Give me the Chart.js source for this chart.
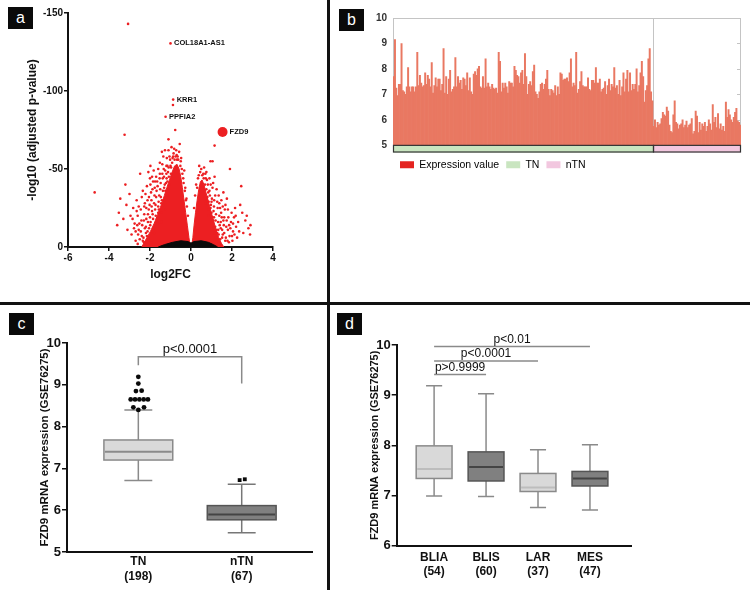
<!DOCTYPE html>
<html><head><meta charset="utf-8">
<script src="https://cdn.jsdelivr.net/npm/chart.js@4.4.1/dist/chart.umd.min.js"></script>
<style>
html,body{margin:0;padding:0;background:#fff;}
#wrap{position:relative;width:750px;height:590px;overflow:hidden;background:#fff;font-family:"Liberation Sans",Arial,sans-serif;}
canvas{position:absolute;}
.sep{position:absolute;background:#111;}
.lab{position:absolute;width:25px;height:22px;line-height:21px;background:#0a0a0a;color:#fff;font-size:16px;text-align:center;}
</style></head><body>
<div id="wrap">
<canvas id="ca" width="327" height="302" style="left:0;top:0"></canvas>
<canvas id="cb" width="420" height="180" style="left:330px;top:0"></canvas>
<canvas id="cc" width="327" height="285" style="left:0;top:305px"></canvas>
<canvas id="cd" width="420" height="285" style="left:330px;top:305px"></canvas>
<div class="sep" style="left:327px;top:0;width:3px;height:590px"></div>
<div class="sep" style="left:0;top:302px;width:750px;height:3px"></div>
<div class="lab" style="left:8px;top:7px">a</div>
<div class="lab" style="left:339px;top:9px">b</div>
<div class="lab" style="left:9px;top:313px">c</div>
<div class="lab" style="left:337px;top:313px">d</div>
</div>
<script>
// ---------- DATA ----------
// panel a : volcano
const volcanoXTicks = [-6, -4, -2, 0, 2, 4];
const volcanoYTicks = [-150, -100, -50, 0];
const volcanoPts = [
 [-4.7,-35],[-3.6,-14],[-3.52,-22],[-3.45,-31],[-3.3,-18],[-3.24,-72],[-3.2,-40],[-3.15,-27],[-3.1,-11],[-3.07,-143],
 [-3.0,-34],[-2.95,-20],[-2.9,-8],[-2.82,-25],[-2.75,-15],[-2.7,-4],[-2.65,-30],[-2.6,-20],[-2.55,-11],[-2.48,-47],
 [-2.45,-24],[-2.4,-7],[-2.35,-36],[-2.3,-17],[-2.25,-28],[-2.2,-13],[-2.15,-39],[-2.1,-21],[-2.05,-32],[-2.0,-44],
 [-1.97,-16],[-1.92,-26],[-1.88,-37],[-1.82,-49],[-1.8,-9],[-1.75,-24],[-1.7,-32],[-1.65,-42],[-1.62,-15],[-1.58,-29],
 [-1.52,-54],[-1.5,-37],[-1.45,-22],[-1.42,-61],[-1.38,-44],[-1.33,-50],[-1.3,-30],[-1.27,-62],[-1.22,-41],[-1.18,-57],
 [-1.12,-48],[-1.1,-69],[-1.05,-58],[-1.0,-52],[-0.95,-64],[-0.9,-57],[-0.85,-60],[-0.77,-75],[-0.72,-62],[-0.65,-58],
 [-0.55,-66],[-0.5,-55],[-0.45,-50],[-0.38,-44],[-0.3,-36],[-0.25,-30],[-2.6,-2],[-2.5,-5],[-2.3,-3],[-2.15,-7],
 [-1.95,-3],[-0.8,-56],[-0.68,-56],[-1.6,-22],[-1.45,-28],[-1.25,-36],[-1.15,-42],[-0.98,-47],[-1.85,-18],[-2.05,-12],
 [-0.88,-91],
 [-2.35,-4],[-2.2,-9],[-2.1,-16],[-2.0,-19],[-1.9,-23],[-1.8,-28],[-1.72,-20],[-1.68,-36],[-1.6,-26],[-1.55,-33],
 [-1.48,-41],[-1.42,-30],[-1.37,-36],[-1.32,-45],[-1.28,-40],[-1.2,-47],[-1.15,-52],[-1.08,-45],[-1.02,-56],[-0.97,-51],
 [-0.92,-54],[-0.87,-58],[-0.82,-63],[-0.75,-58],[-0.7,-59],[-0.62,-56],[-0.58,-61],[-0.52,-52],[-0.48,-57],[-0.42,-47],
 [-0.36,-41],[-0.33,-49],[-0.28,-38],[-0.22,-31],[-0.2,-26],[-0.15,-20],[-2.45,-10],[-2.38,-14],[-2.28,-21],[-2.18,-25],
 [-2.02,-27],[-1.95,-35],[-1.85,-42],[-1.78,-33],[-1.52,-47],[-1.4,-53],[-1.35,-58],[-1.2,-52],[-1.1,-62],[-2.7,-10],
 [-2.62,-14],[-2.85,-18],[-2.55,-26],[-2.4,-32],[-2.22,-34],[-2.08,-48],[-1.98,-52],[-1.7,-45],[-1.6,-50],
 [-2.32,-6],[-2.25,-12],[-2.18,-18],[-2.12,-10],[-2.06,-24],[-1.99,-14],[-1.93,-30],[-1.87,-21],[-1.83,-12],[-1.77,-38],
 [-1.73,-27],[-1.66,-18],[-1.63,-39],[-1.57,-24],[-1.53,-44],[-1.47,-32],[-1.43,-16],[-1.4,-47],[-1.36,-27],[-1.31,-38],
 [-1.26,-49],[-1.24,-24],[-1.19,-44],[-1.14,-33],[-1.09,-51],[-1.04,-40],[-2.28,-26],[-2.12,-30],[-1.98,-40],[-1.9,-45],
 [-1.75,-42],[-2.42,-17],[-2.52,-15],[-2.58,-8],[-2.65,-23],[-2.78,-12],
 [0.3,-38],[0.38,-46],[0.45,-48],[0.55,-46],[0.62,-44],[0.68,-40],[0.75,-37],[0.8,-32],[0.86,-29],[0.9,-36],
 [0.95,-25],[1.0,-22],[1.02,-31],[1.05,-55],[0.95,-55],[1.08,-17],[1.12,-26],[1.15,-65],[1.18,-13],[1.22,-21],
 [1.28,-9],[1.32,-16],[1.38,-28],[1.42,-5],[1.45,-12],[1.5,-19],[1.55,-8],[1.6,-14],[1.65,-24],[1.7,-6],
 [1.75,-31],[1.8,-11],[1.85,-3],[1.9,-50],[1.95,-16],[2.0,-7],[2.05,-10],[2.1,-19],[2.2,-13],[2.3,-16],
 [2.4,-27],[2.45,-39],[2.5,-22],[2.55,-9],[2.65,-17],[2.72,-20],[2.8,-12],[2.88,-8],[2.9,-14],[1.25,-4],
 [1.35,-2],[0.7,-28],[0.85,-20],[1.0,-12],[1.15,-9],
 [0.6,-47],[0.65,-36],[0.72,-44],[0.78,-30],[0.82,-40],[0.88,-24],[0.92,-33],[0.97,-27],[1.02,-19],[1.05,-38],
 [1.1,-23],[1.13,-30],[1.2,-17],[1.24,-11],[1.3,-25],[1.35,-8],[1.4,-14],[1.47,-22],[1.52,-6],[1.58,-17],
 [1.62,-9],[1.68,-27],[1.72,-13],[1.78,-4],[1.82,-19],[1.88,-7],[1.92,-12],[1.98,-22],[2.02,-4],[2.12,-8],
 [2.15,-25],[2.25,-6],[2.35,-10],[0.25,-40],[0.2,-33],[0.15,-25],[0.5,-50],[0.4,-52],[0.34,-44],[0.58,-38],
 [1.48,-30],[1.58,-35],[0.75,-48],
 [1.45,-16],[1.38,-20],[1.33,-11],[1.28,-29],[1.22,-6],[1.18,-33],[1.12,-19],[1.08,-41],[1.0,-29],[0.96,-40],
 [0.9,-44],[0.84,-35],[0.78,-43],[0.7,-47],[0.64,-51],[1.55,-26],[1.62,-19],[1.67,-4],[1.74,-17],[1.8,-24],
 [1.86,-14],[1.52,-11],[1.42,-25],[1.35,-33],[1.25,-37],[1.15,-45],[2.05,-15],[2.18,-20]
];
// dense significant clouds (outline of the packed points)
const denseLeft = [[-0.03,0],[-0.1,-6],[-0.18,-14],[-0.26,-22],[-0.34,-30],[-0.42,-38],[-0.5,-45],[-0.58,-50],[-0.68,-53],[-0.8,-52],[-0.92,-48],[-1.05,-43],[-1.18,-38],[-1.3,-33],[-1.45,-27],[-1.62,-21],[-1.8,-15],[-1.98,-10],[-2.15,-6],[-2.3,-2.5],[-2.4,0]];
const denseRight = [[0.03,0],[0.09,-6],[0.15,-14],[0.22,-22],[0.3,-30],[0.38,-37],[0.46,-42],[0.54,-43],[0.63,-40],[0.73,-35],[0.85,-29],[0.97,-23],[1.1,-17],[1.22,-11],[1.35,-6],[1.48,-2.5],[1.6,0]];
const denseNonSig = [[-1.6,0],[-1.3,-1.5],[-0.9,-3],[-0.5,-4],[-0.15,-3.5],[0,-2.5],[0.15,-3.5],[0.5,-4],[0.85,-3],[1.1,-1.5],[1.3,0]];
const geneNames = ['COL18A1-AS1', 'KRR1', 'PPFIA2', 'FZD9'];
const geneX = [-1.0, -0.87, -1.24, 1.54];
const geneY = [-130.5, -94.5, -83.5, -73.7];

// panel b : expression per sample
const tnExpr = [
 7.7,9.15,7.25,6.95,7.4,7.4,9.0,7.15,7.1,7.0,
 7.3,8.05,7.3,7.1,7.3,7.3,7.1,7.3,8.65,7.35,
 7.75,7.45,7.3,7.35,7.85,7.4,7.75,7.6,7.3,8.25,
 7.05,7.35,7.65,7.3,7.6,7.6,7.15,7.4,8.8,7.05,
 7.7,7.0,7.6,7.95,7.1,7.2,7.3,8.45,7.3,7.7,
 7.45,7.55,7.2,7.65,7.6,7.35,7.85,7.15,7.65,7.1,
 7.0,7.8,7.9,7.75,8.0,8.1,7.3,7.25,7.7,7.25,
 8.4,7.3,7.45,7.3,7.2,7.4,7.25,7.2,7.25,7.05,
 8.65,8.3,7.1,7.45,7.25,7.45,7.3,7.05,7.5,7.45,
 7.45,7.3,8.1,7.95,7.75,7.7,7.45,7.85,7.95,7.4,
 8.6,7.7,7.0,7.4,7.5,7.35,7.9,8.15,7.1,7.0,
 6.85,7.1,7.4,7.45,7.2,7.4,7.6,7.95,7.2,6.95,
 7.2,7.15,7.05,7.35,6.95,7.3,7.0,7.85,7.8,7.55,
 7.6,7.6,7.65,7.5,7.85,8.4,7.3,7.45,7.35,8.65,
 7.05,7.2,7.5,7.9,7.35,7.3,7.3,7.3,7.65,7.2,
 7.15,7.55,7.55,7.45,8.05,7.45,7.45,7.6,7.1,7.2,
 7.25,7.5,7.0,7.35,7.6,7.15,7.4,7.3,
 8.05,7.25,7.35,7.0,7.55,6.95,7.3,7.85,7.1,7.6,
 7.95,7.1,7.85,7.15,7.4,7.2,7.4,8.0,7.1,7.35,
 7.85,8.3,7.7,6.7,7.15,7.35,8.4,8.8,7.1,6.75
];
const ntnExpr = [
 5.75,6.0,5.7,5.9,5.8,5.85,6.05,6.3,6.2,6.15,
 6.5,6.35,5.8,5.55,5.5,6.2,6.75,5.9,5.85,5.65,
 5.8,5.85,6.0,5.7,5.8,5.95,5.7,5.8,5.85,6.05,
 5.45,5.55,6.35,6.15,5.5,5.9,5.6,5.85,5.75,5.9,
 5.55,5.75,6.0,5.85,5.6,6.6,5.9,6.1,5.7,6.25,
 5.65,5.85,5.6,5.75,5.55,6.7,6.1,6.4,6.2,6.0,
 5.9,6.1,6.3,6.45,5.95,5.9,5.8
];
const bTicks = [5, 6, 7, 8, 9, 10];
const bLegend = ['Expression value', 'TN', 'nTN'];

// panel c : TN vs nTN box plot
const cCats = ['TN', 'nTN'];
const cCounts = [198, 67];
const cMin = [6.71, 5.46];
const cQ1 = [7.20, 5.77];
const cMed = [7.40, 5.90];
const cQ3 = [7.68, 6.11];
const cMax = [8.40, 6.62];
const cOutTN = [[0,9.19],[0,9.03],[-0.023,8.85],[0.032,8.86],[-0.074,8.65],[-0.032,8.65],[0.01,8.65],[0.052,8.65],[0.093,8.65],[-0.048,8.46],[0.055,8.46],[0,8.40]];
const cOutNTN = [[0.98,6.72],[1.03,6.74]];
const cTicks = [5, 6, 7, 8, 9, 10];
const cP = 'p<0.0001';

// panel d : subtypes
const dCats = ['BLIA', 'BLIS', 'LAR', 'MES'];
const dCounts = [54, 60, 37, 47];
const dMin = [6.99, 6.98, 6.76, 6.71];
const dQ1 = [7.34, 7.29, 7.08, 7.19];
const dMed = [7.53, 7.57, 7.16, 7.34];
const dQ3 = [7.99, 7.87, 7.44, 7.48];
const dMax = [9.19, 9.03, 7.91, 8.01];
const dTicks = [6, 7, 8, 9, 10];
const dComp = [[0,1,'p>0.9999'],[0,2,'p<0.0001'],[0,3,'p<0.01']];

// ---------- DRAWING ----------
Chart.defaults.font.family = '"Liberation Sans", Arial, Helvetica, sans-serif';
Chart.defaults.color = '#111';
const RED = '#ec1f22';
const pts = a => a.map(p => ({x: p[0], y: p[1]}));

// panel a
const geneLabelPlugin = {
  id: 'geneLabels',
  afterDatasetsDraw(chart) {
    const {ctx, scales: {x, y}} = chart;
    ctx.save();
    ctx.font = 'bold 7.5px "Liberation Sans", Arial, sans-serif';
    ctx.fillStyle = '#111';
    ctx.textBaseline = 'middle';
    geneNames.forEach((g, i) => {
      const off = i === 3 ? 7 : 3.5;
      ctx.fillText(g, x.getPixelForValue(geneX[i]) + off, y.getPixelForValue(geneY[i]));
    });
    ctx.restore();
  }
};
new Chart(document.getElementById('ca'), {
  type: 'scatter',
  data: { datasets: [
    { type: 'line', data: pts(denseNonSig), showLine: true, fill: 'shape', backgroundColor: '#0a0a0a', borderColor: '#0a0a0a', borderWidth: 1, pointRadius: 0, order: 0 },
    { data: [{x: geneX[3], y: geneY[3]}], pointRadius: 5, backgroundColor: RED, borderWidth: 0, order: 0 },
    { data: geneNames.slice(0, 3).map((g, i) => ({x: geneX[i], y: geneY[i]})), pointRadius: 1.3, backgroundColor: RED, borderWidth: 0, order: 1 },
    { data: pts(volcanoPts), pointRadius: 1.3, backgroundColor: RED, borderWidth: 0, order: 1 },
    { type: 'line', data: pts(denseLeft), showLine: true, fill: 'shape', backgroundColor: RED, borderColor: RED, borderWidth: 1, pointRadius: 0, order: 2 },
    { type: 'line', data: pts(denseRight), showLine: true, fill: 'shape', backgroundColor: RED, borderColor: RED, borderWidth: 1, pointRadius: 0, order: 2 }
  ]},
  options: {
    responsive: false, animation: false,
    layout: { padding: { left: 0, top: 13, right: 54, bottom: 0 } },
    plugins: { legend: { display: false }, tooltip: { enabled: false } },
    scales: {
      x: { type: 'linear', min: -6, max: 4,
        afterBuildTicks: s => { s.ticks = volcanoXTicks.map(v => ({value: v})); },
        ticks: { font: { size: 10, weight: 'bold' }, color: '#111', padding: 1, maxRotation: 0 },
        grid: { drawOnChartArea: false, tickLength: 4, color: '#111', lineWidth: 1.5 },
        border: { color: '#111', width: 2 },
        title: { display: true, text: 'log2FC', font: { size: 12, weight: 'bold' }, color: '#111', padding: { bottom: 20 } },
        afterFit: s => { s.height = 55; } },
      y: { type: 'linear', min: -150, max: 0, reverse: true,
        afterBuildTicks: s => { s.ticks = volcanoYTicks.map(v => ({value: v})); },
        ticks: { font: { size: 10, weight: 'bold' }, color: '#111', padding: 1 },
        grid: { drawOnChartArea: false, tickLength: 4, color: '#111', lineWidth: 1.5 },
        border: { color: '#111', width: 2 },
        title: { display: true, text: '-log10 (adjusted p-value)', font: { size: 12, weight: 'bold' }, color: '#111', padding: { top: 25 } },
        afterFit: s => { s.width = 68; } }
    }
  },
  plugins: [geneLabelPlugin]
});

// panel b
const bAll = tnExpr.concat(ntnExpr);
const bLabels = tnExpr.map((_, i) => 'TN' + (i + 1)).concat(ntnExpr.map((_, i) => 'nTN' + (i + 1)));
const legendColors = ['#e42320', '#c9e5c0', '#f2c7df'];
const stripPlugin = {
  id: 'strip',
  beforeDatasetsDraw(chart) {
    const {ctx, chartArea: a, scales: {x, y}} = chart;
    const y10 = y.getPixelForValue(10), y5 = y.getPixelForValue(5);
    const div = Math.round((x.getPixelForValue(tnExpr.length - 1) + x.getPixelForValue(tnExpr.length)) / 2);
    ctx.save();
    ctx.strokeStyle = '#c4c4c4'; ctx.lineWidth = 1;
    ctx.strokeRect(Math.round(a.left) + 0.5, Math.round(y10) + 0.5, Math.round(a.right - a.left) - 1, Math.round(y5 - y10));
    ctx.beginPath();
    ctx.moveTo(div + 0.5, y10); ctx.lineTo(div + 0.5, y5);
    bTicks.slice(1, -1).forEach(v => { const yy = Math.round(y.getPixelForValue(v)) + 0.5; ctx.moveTo(a.right - 4, yy); ctx.lineTo(a.right, yy); });
    ctx.stroke();
    ctx.restore();
  },
  afterDatasetsDraw(chart) {
    const {ctx, chartArea: a, scales: {x, y}} = chart;
    const y5 = y.getPixelForValue(5), yb = y.getPixelForValue(4.72);
    const div = Math.round((x.getPixelForValue(tnExpr.length - 1) + x.getPixelForValue(tnExpr.length)) / 2);
    ctx.save();
    ctx.fillStyle = legendColors[1]; ctx.fillRect(a.left, y5, div - a.left, yb - y5);
    ctx.fillStyle = legendColors[2]; ctx.fillRect(div, y5, a.right - div, yb - y5);
    ctx.strokeStyle = '#333'; ctx.lineWidth = 1.2;
    ctx.strokeRect(a.left + 0.5, y5, div - a.left, yb - y5 - 0.5);
    ctx.strokeRect(div + 0.5, y5, a.right - div - 1, yb - y5 - 0.5);
    ctx.restore();
  }
};
new Chart(document.getElementById('cb'), {
  type: 'bar',
  data: { labels: bLabels, datasets: [{ data: bAll, base: 5, backgroundColor: '#e97862', borderWidth: 0, barPercentage: 1, categoryPercentage: 1 }] },
  options: {
    responsive: false, animation: false,
    layout: { padding: { left: 0, top: 18, right: 9, bottom: 0 } },
    plugins: {
      tooltip: { enabled: false },
      legend: { display: true, position: 'bottom', align: 'start', fullSize: false,
        labels: { boxWidth: 14, boxHeight: 7, padding: 7, font: { size: 10.5 }, color: '#222',
          generateLabels: () => bLegend.map((t, i) => ({ text: t, fillStyle: legendColors[i], strokeStyle: legendColors[i], lineWidth: 0, hidden: false, index: i })) } }
    },
    scales: {
      x: { display: false },
      y: { min: 4.72, max: 10,
        afterBuildTicks: s => { s.ticks = bTicks.map(v => ({value: v})); },
        ticks: { font: { size: 10, weight: 'bold' }, color: '#333', padding: 6 },
        grid: { display: false, drawTicks: false },
        border: { display: false },
        afterFit: s => { s.width = 63; } }
    }
  },
  plugins: [stripPlugin]
});

// box plot helper
function boxPlugin(cfg) {
  return {
    id: 'box_' + cfg.id,
    beforeDatasetsDraw(chart) {
      const {ctx, scales: {x, y}} = chart;
      const Y = v => y.getPixelForValue(v);
      ctx.save();
      ctx.lineWidth = 1.5;
      cfg.min.forEach((_, i) => {
        const cx = x.getPixelForValue(i);
        const hw = x.getPixelForValue(i + cfg.half) - cx;
        const cw = x.getPixelForValue(i + cfg.cap) - cx;
        const yMin = Y(cfg.min[i]), yQ1 = Y(cfg.q1[i]), yMed = Y(cfg.med[i]), yQ3 = Y(cfg.q3[i]), yMax = Y(cfg.max[i]);
        ctx.strokeStyle = cfg.whisker[i];
        ctx.beginPath();
        ctx.moveTo(cx, yMax); ctx.lineTo(cx, yQ3);
        ctx.moveTo(cx, yQ1); ctx.lineTo(cx, yMin);
        ctx.moveTo(cx - cw, yMax); ctx.lineTo(cx + cw, yMax);
        ctx.moveTo(cx - cw, yMin); ctx.lineTo(cx + cw, yMin);
        ctx.stroke();
        ctx.fillStyle = cfg.fill[i];
        ctx.fillRect(cx - hw, yQ3, 2 * hw, yQ1 - yQ3);
        ctx.strokeStyle = cfg.edge[i];
        ctx.strokeRect(cx - hw, yQ3, 2 * hw, yQ1 - yQ3);
        ctx.strokeStyle = cfg.medColor[i];
        ctx.lineWidth = 2;
        ctx.beginPath(); ctx.moveTo(cx - hw + 1, yMed); ctx.lineTo(cx + hw - 1, yMed); ctx.stroke();
        ctx.lineWidth = 1.5;
      });
      // significance annotations
      ctx.strokeStyle = '#8a8a8a';
      ctx.fillStyle = '#111';
      ctx.font = cfg.pFont;
      ctx.textAlign = 'center';
      ctx.textBaseline = 'bottom';
      cfg.comps.forEach(c => {
        const x1 = x.getPixelForValue(c.a), x2 = x.getPixelForValue(c.b), yl = Y(c.y);
        ctx.beginPath();
        if (c.dropA !== undefined) { ctx.moveTo(x1, Y(c.dropA)); ctx.lineTo(x1, yl); } else ctx.moveTo(x1, yl);
        ctx.lineTo(x2, yl);
        if (c.dropB !== undefined) ctx.lineTo(x2, Y(c.dropB));
        ctx.stroke();
        ctx.fillText(c.text, (x1 + x2) / 2, yl - 1);
      });
      ctx.restore();
    }
  };
}
function boxScales(o) {
  return {
    x: { type: 'linear', min: o.xmin, max: o.xmax,
      afterBuildTicks: s => { s.ticks = o.cats.map((_, i) => ({value: i})); },
      ticks: { callback: v => [o.cats[v], '(' + o.counts[v] + ')'], font: { size: 12, weight: 'bold', lineHeight: o.lh }, color: '#111', padding: o.xpad, maxRotation: 0, autoSkip: false },
      grid: { display: false, drawTicks: false },
      border: { display: true, color: '#111', width: 2 },
      afterFit: s => { s.height = o.xh; } },
    y: { type: 'linear', min: o.ticks[0], max: o.ticks[o.ticks.length - 1],
      afterBuildTicks: s => { s.ticks = o.ticks.map(v => ({value: v})); },
      ticks: { font: { size: 13, weight: 'bold' }, color: '#111', padding: 1 },
      grid: { drawOnChartArea: false, tickLength: 5, color: '#111', lineWidth: 1.5 },
      border: { color: '#111', width: 2 },
      title: { display: true, text: 'FZD9 mRNA expression (GSE76275)', font: { size: o.tsize, weight: 'bold' }, color: '#111', padding: { top: o.tpad } },
      afterFit: s => { s.width = o.yw; } }
  };
}

// panel c
new Chart(document.getElementById('cc'), {
  type: 'scatter',
  data: { datasets: [
    { data: pts(cOutTN), pointStyle: 'circle', pointRadius: 2.4, backgroundColor: '#0a0a0a', borderWidth: 0 },
    { data: pts(cOutNTN), pointStyle: 'rect', pointRadius: 2.7, backgroundColor: '#0a0a0a', borderWidth: 0 }
  ]},
  options: {
    responsive: false, animation: false,
    layout: { padding: { left: 0, top: 38, right: 15, bottom: 0 } },
    plugins: { legend: { display: false }, tooltip: { enabled: false } },
    scales: boxScales({ cats: cCats, counts: cCounts, xmin: -0.69, xmax: 1.68, ticks: cTicks, xh: 38, yw: 67, lh: 1.25, xpad: 2, tsize: 11.5, tpad: 38 })
  },
  plugins: [boxPlugin({ id: 'c', min: cMin, q1: cQ1, med: cMed, q3: cQ3, max: cMax, half: 0.333, cap: 0.135,
    fill: ['#d9d9d9', '#808080'], edge: ['#8a8a8a', '#555555'], medColor: ['#8a8a8a', '#444444'], whisker: ['#8a8a8a', '#777777'],
    pFont: '13px "Liberation Sans", Arial, sans-serif',
    comps: [{ a: 0, b: 1, y: 9.67, dropA: 9.47, dropB: 9.03, text: cP }] })]
});

// panel d
new Chart(document.getElementById('cd'), {
  type: 'scatter',
  data: { datasets: [{ data: [], pointRadius: 0 }] },
  options: {
    responsive: false, animation: false,
    layout: { padding: { left: 0, top: 40, right: 119, bottom: 0 } },
    plugins: { legend: { display: false }, tooltip: { enabled: false } },
    scales: boxScales({ cats: dCats, counts: dCounts, xmin: -0.72, xmax: 3.79, ticks: dTicks, xh: 44.3, yw: 66.7, lh: 1.15, xpad: 5, tsize: 11, tpad: 38.4 })
  },
  plugins: [boxPlugin({ id: 'd', min: dMin, q1: dQ1, med: dMed, q3: dQ3, max: dMax, half: 0.345, cap: 0.155,
    fill: ['#d9d9d9', '#808080', '#d9d9d9', '#808080'], edge: ['#8a8a8a', '#555555', '#8a8a8a', '#555555'],
    medColor: ['#bdbdbd', '#444444', '#bdbdbd', '#444444'], whisker: ['#8a8a8a', '#8a8a8a', '#8a8a8a', '#8a8a8a'],
    pFont: '12px "Liberation Sans", Arial, sans-serif',
    comps: dComp.map((c, k) => ({ a: c[0], b: c[1], y: [9.41, 9.68, 9.97][k], text: c[2] })) })]
});
</script>
</body></html>
